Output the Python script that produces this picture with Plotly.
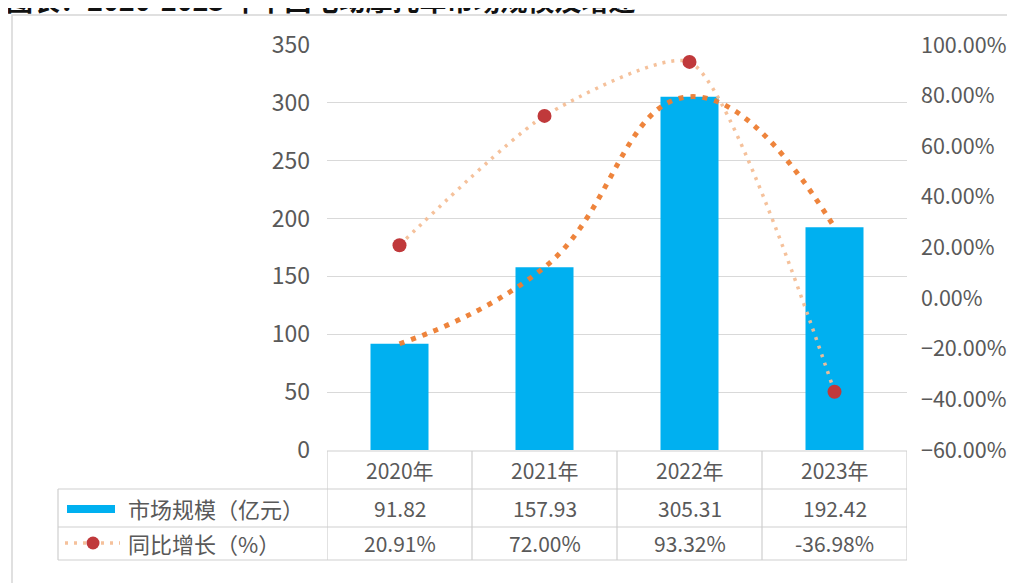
import plotly.graph_objects as go

# ---- data ----
years = ["2020年", "2021年", "2022年", "2023年"]
market_size = [91.82, 157.93, 305.31, 192.42]          # 亿元
yoy_growth = [20.91, 72.00, 93.32, -36.98]              # %
size_labels = ["91.82", "157.93", "305.31", "192.42"]
growth_labels = ["20.91%", "72.00%", "93.32%", "-36.98%"]
series_names = ["市场规模（亿元）", "同比增长（%）"]
title_text = "图表：2020-2023 年中国电动摩托车市场规模及增速"

W, H = 1015, 583
OFF = 8  # page body margin offset
FONT = "Noto Sans CJK SC"
TXT = "#595959"
GRID = "#d9d9d9"
TBL = "#cfcfcf"
GROWTH_LINE = "rgba(244,190,150,0.95)"
TREND_LINE = "rgba(237,125,49,0.95)"

def px(x):
    return (x - OFF) / W

def py(y):
    return 1 - (y - OFF) / H

fig = go.Figure()

fig.add_trace(go.Bar(
    x=years, y=market_size, marker=dict(color="#00B0F0", line=dict(width=0)),
    name=series_names[0], yaxis="y", showlegend=False,
))
# smoothed trend of market size
fig.add_trace(go.Scatter(
    x=years, y=market_size, mode="lines", yaxis="y",
    line=dict(color=TREND_LINE, width=5, shape="spline", smoothing=1.3, dash="5px,7px"),
    showlegend=False, hoverinfo="skip",
))
# growth line
fig.add_trace(go.Scatter(
    x=years, y=yoy_growth, mode="lines+markers", yaxis="y2",
    line=dict(color=GROWTH_LINE, width=3.5, shape="spline", smoothing=0.6, dash="3px,6px"),
    marker=dict(color="#C0393B", size=14, line=dict(width=0)),
    name=series_names[1], showlegend=False,
))

x_dom = [px(327), px(907)]
y_dom = [py(450), py(45)]

fig.update_layout(
    width=W, height=H,
    margin=dict(l=0, r=0, t=0, b=0, autoexpand=False),
    paper_bgcolor="white", plot_bgcolor="white",
    font=dict(family=FONT, color=TXT, size=21),
    bargap=0.6,
    xaxis=dict(domain=x_dom, type="category", showticklabels=False, showgrid=False, automargin=False,
               zeroline=False, showline=False, ticks="", range=[-0.5, 3.5], fixedrange=True),
    yaxis=dict(domain=y_dom, range=[0, 350], dtick=50, showgrid=True, gridcolor=GRID, gridwidth=1,
               zeroline=False, showline=False, ticks="", ticklabelstandoff=16, automargin=False,
               tickfont=dict(family=FONT, size=23, color=TXT)),
    yaxis2=dict(overlaying="y", side="right", range=[-60, 100], dtick=20, showgrid=False, automargin=False,
                zeroline=False, showline=False, ticks="", tickformat=".2f", ticksuffix="%",
                ticklabelstandoff=13, tickfont=dict(family=FONT, size=21.5, color=TXT)),
)

shapes = []
line_style = dict(color=TBL, width=1.2)
# outer border of the chart area
shapes.append(dict(type="rect", xref="paper", yref="paper", x0=px(12), x1=1.02, y0=-0.02, y1=py(15),
                   line=dict(color="#d6d6d6", width=1.5), layer="below"))
# table horizontal lines
shapes.append(dict(type="line", xref="x", yref="paper", x0=-0.5, x1=3.5, y0=py(451), y1=py(451), line=line_style))
for yy in (489, 527, 560):
    shapes.append(dict(type="line", xref="paper", yref="paper", x0=px(58), x1=px(907), y0=py(yy), y1=py(yy), line=line_style))
# table vertical lines
for i in range(len(years) + 1):
    shapes.append(dict(type="line", xref="x", yref="paper", x0=i - 0.5, x1=i - 0.5, y0=py(451), y1=py(560), line=line_style))
shapes.append(dict(type="line", xref="paper", yref="paper", x0=px(58), x1=px(58), y0=py(489), y1=py(560), line=line_style))
# legend keys in table
shapes.append(dict(type="rect", xref="paper", yref="paper", x0=px(67), x1=px(115), y0=py(513), y1=py(505),
                   fillcolor="#00B0F0", line=dict(width=0)))
shapes.append(dict(type="line", xref="paper", yref="paper", x0=px(65), x1=px(120), y0=py(543), y1=py(543),
                   line=dict(color=GROWTH_LINE, width=3.5, dash="3px,6px")))
shapes.append(dict(type="circle", xref="paper", yref="paper", x0=px(86.5), x1=px(99.5), y0=py(549.5), y1=py(536.5),
                   fillcolor="#C0393B", line=dict(width=0)))
fig.update_layout(shapes=shapes)

ann = []
for i, yr in enumerate(years):
    ann.append(dict(x=yr, xref="x", y=py(470), yref="paper", yanchor="middle", text=yr, showarrow=False,
                    font=dict(family=FONT, size=21, color=TXT)))
    ann.append(dict(x=yr, xref="x", y=py(508), yref="paper", yanchor="middle", text=size_labels[i], showarrow=False,
                    font=dict(family=FONT, size=21, color=TXT)))
    ann.append(dict(x=yr, xref="x", y=py(543), yref="paper", yanchor="middle", text=growth_labels[i], showarrow=False,
                    font=dict(family=FONT, size=21, color=TXT)))
ann.append(dict(x=px(126), xref="paper", xanchor="left", y=py(508), yref="paper", yanchor="middle",
                text=series_names[0], showarrow=False, font=dict(family=FONT, size=22, color=TXT)))
ann.append(dict(x=px(126), xref="paper", xanchor="left", y=py(543), yref="paper", yanchor="middle",
                text=series_names[1], showarrow=False, font=dict(family=FONT, size=22, color=TXT)))
ann.append(dict(x=px(4), xref="paper", xanchor="left", y=py(0), yref="paper", yanchor="middle",
                text="<b>" + title_text + "</b>", showarrow=False,
                font=dict(family=FONT, size=27, color="#111111")))
fig.update_layout(annotations=ann)

fig.write_html("out.html")
